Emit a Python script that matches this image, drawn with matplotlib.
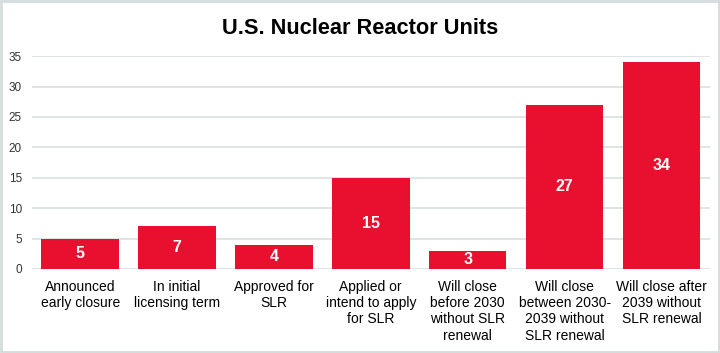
import matplotlib
matplotlib.use("Agg")
from matplotlib import pyplot as plt
from matplotlib.patches import Rectangle

categories = [
    "Announced\nearly closure",
    "In initial\nlicensing term",
    "Approved for\nSLR",
    "Applied or\nintend to apply\nfor SLR",
    "Will close\nbefore 2030\nwithout SLR\nrenewal",
    "Will close\nbetween 2030-\n2039 without\nSLR renewal",
    "Will close after\n2039 without\nSLR renewal",
]
units = [5, 7, 4, 15, 3, 27, 34]
yticks = [0, 5, 10, 15, 20, 25, 30, 35]

plt.rcParams['font.family'] = ['Liberation Sans', 'DejaVu Sans']

fig = plt.figure(figsize=(7.2, 3.53), dpi=100)
fig.patches.append(Rectangle((0.002, 0.003), 0.996, 0.994, transform=fig.transFigure,
                             fill=False, edgecolor='#d5dcdc', linewidth=2))
ax = fig.add_axes([0.044, 0.238, 0.942, 0.603])

x = range(len(units))
bars = ax.bar(x, units, width=0.8, color='#e8102e', zorder=3)
for b, v in zip(bars, units):
    ax.text(b.get_x() + b.get_width() / 2, v / 2, str(v), ha='center', va='center',
            color='white', fontsize=11.5, fontweight='bold', zorder=4)

ax.set_xlim(-0.5, len(units) - 0.5)
ax.set_ylim(0, 35)
ax.set_yticks(yticks)
ax.yaxis.grid(True, color='#d9e0e0', linewidth=1.2, zorder=0)
for s in ax.spines.values():
    s.set_visible(False)
ax.tick_params(axis='y', length=0, labelsize=8.5, labelcolor='#333333', pad=7)
ax.set_xticks(list(x))
ax.set_xticklabels(categories, fontsize=10, linespacing=1.2, va='top')
ax.tick_params(axis='x', length=0, pad=8)

fig.suptitle("U.S. Nuclear Reactor Units", fontsize=15.7, fontweight='bold', y=0.95)

fig.savefig("out.png", dpi=100)
